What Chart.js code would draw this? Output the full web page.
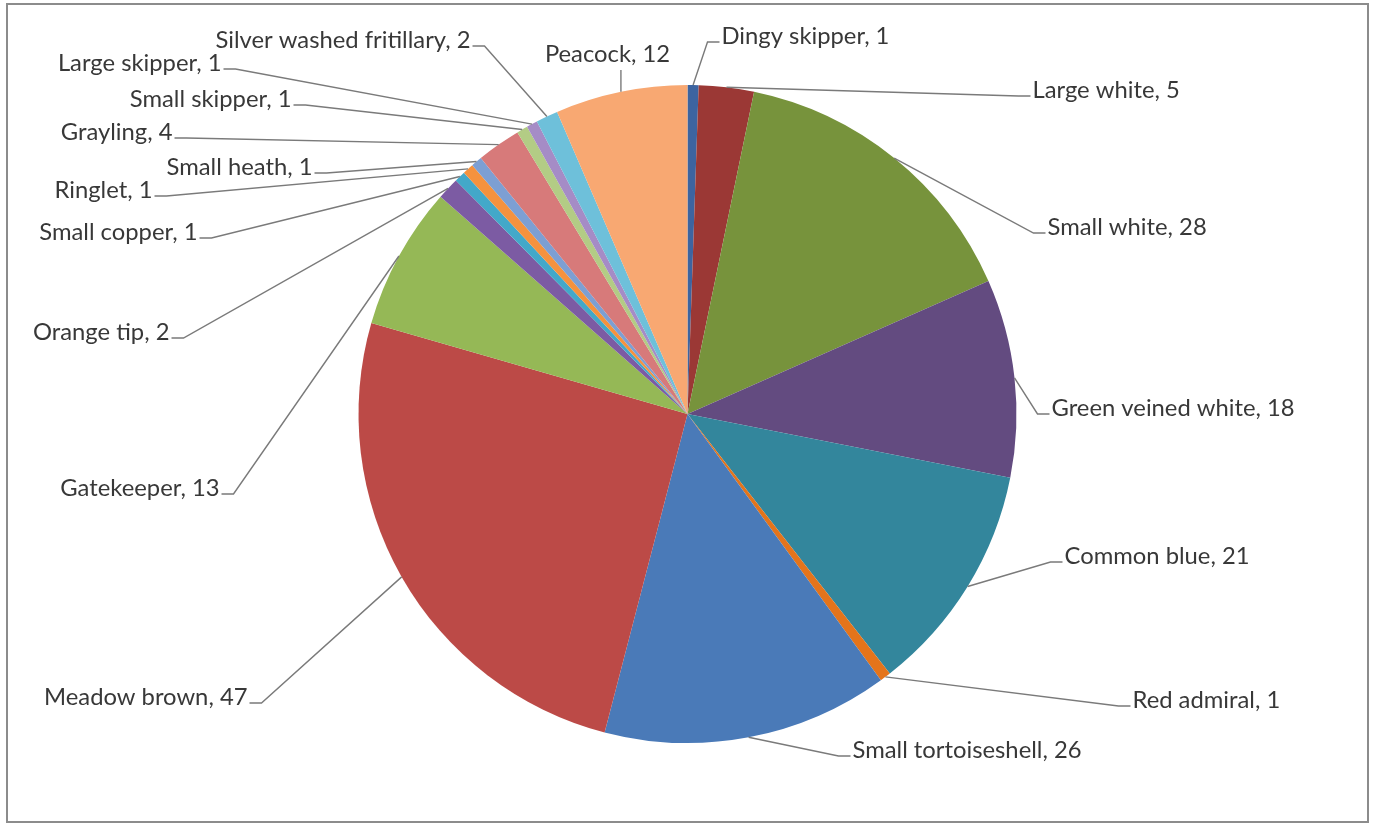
<!DOCTYPE html>
<html>
<head>
<meta charset="utf-8">
<title>Butterfly counts</title>
<script src="https://cdn.jsdelivr.net/npm/chart.js@4.4.1/dist/chart.umd.min.js"></script>
<style>
  html, body { margin: 0; padding: 0; background: #fff; }
  #wrap { position: relative; width: 1375px; height: 823px; }
</style>
</head>
<body>
<div id="wrap"><canvas id="pie"></canvas></div>
<script>
// species, clockwise from 12 o'clock
const species = [
  'Dingy skipper', 'Large white', 'Small white', 'Green veined white',
  'Common blue', 'Red admiral', 'Small tortoiseshell', 'Meadow brown',
  'Gatekeeper', 'Orange tip', 'Small copper', 'Ringlet', 'Small heath',
  'Grayling', 'Small skipper', 'Large skipper', 'Silver washed fritillary',
  'Peacock'
];
const counts = [1, 5, 28, 18, 21, 1, 26, 47, 13, 2, 1, 1, 1, 4, 1, 1, 2, 12];

const sliceColors = [
  '#3D64A0', '#9B3835', '#77933C', '#634B80', '#33869C', '#E4741B',
  '#4A7AB8', '#BC4A47', '#95B856', '#7C5BA3', '#43A8C9', '#F5923E',
  '#7D9FD3', '#D77A7A', '#B3CC85', '#A58CC6', '#6EC0DA', '#F8A872'
];

// where each label sits, offset from the pie centre, and which side the leader line joins
const labelSpots = [
  [34, -378, 'left'], [345, -324, 'left'], [360, -187, 'left'], [364, -6, 'left'],
  [377, 142, 'left'], [445, 286, 'left'], [165, 336, 'left'], [-440, 283, 'right'],
  [-468, 74, 'right'], [-518, -82, 'right'], [-490, -182, 'right'], [-535, -224, 'right'],
  [-375, -247, 'right'], [-515, -282, 'right'], [-396, -315, 'right'], [-466, -351, 'right'],
  [-217, -374, 'right'], [-80, -360, 'bottom']
];

const FONT_FAMILY = 'Lato, "Open Sans", sans-serif';
const TEXT_COLOR = '#383838';
const LINE_COLOR = '#7a7a7a';

// pick a font size so the text is about as wide as the original labels
function labelFontSize(ctx) {
  ctx.save();
  ctx.font = '100px ' + FONT_FAMILY;
  const w = ctx.measureText('Green veined white, 18').width;
  ctx.restore();
  return Math.round(100 * 243 / w * 10) / 10;
}

const frame = {
  id: 'frame',
  beforeDraw(chart) {
    const ctx = chart.ctx;
    ctx.save();
    ctx.fillStyle = '#fff';
    ctx.fillRect(0, 0, chart.width, chart.height);
    ctx.strokeStyle = '#8c8c8c';
    ctx.lineWidth = 2;
    ctx.strokeRect(7, 4, 1361, 818);
    ctx.restore();
  }
};

const leaderLabels = {
  id: 'leaderLabels',
  afterDatasetsDraw(chart) {
    const ctx = chart.ctx;
    const meta = chart.getDatasetMeta(0);
    const size = labelFontSize(ctx);

    ctx.save();
    ctx.font = size + 'px ' + FONT_FAMILY;
    ctx.textBaseline = 'middle';
    ctx.lineWidth = 1.4;
    ctx.strokeStyle = LINE_COLOR;
    ctx.fillStyle = TEXT_COLOR;

    meta.data.forEach((arc, i) => {
      const { x, y, startAngle, endAngle, outerRadius } = arc.getProps(
        ['x', 'y', 'startAngle', 'endAngle', 'outerRadius'], true);
      const mid = (startAngle + endAngle) / 2;
      const px = x + Math.cos(mid) * outerRadius;
      const py = y + Math.sin(mid) * outerRadius;

      const [dx, dy, side] = labelSpots[i];
      const lx = x + dx;
      const ly = y + dy;
      const text = species[i] + ', ' + counts[i];

      ctx.beginPath();
      ctx.moveTo(px, py);
      if (side === 'left') {
        ctx.lineTo(lx - 14, ly + 6);
        ctx.lineTo(lx - 2, ly + 6);
      } else if (side === 'right') {
        ctx.lineTo(lx + 14, ly + 6);
        ctx.lineTo(lx + 2, ly + 6);
      } else {
        ctx.lineTo(px, ly + 16);
      }
      ctx.stroke();

      if (side === 'left') {
        ctx.textAlign = 'left';
      } else if (side === 'right') {
        ctx.textAlign = 'right';
      } else {
        ctx.textAlign = 'center';
      }
      ctx.fillText(text, lx, ly);
    });
    ctx.restore();
  }
};

new Chart(document.getElementById('pie'), {
  type: 'pie',
  data: {
    labels: species,
    datasets: [{
      data: counts,
      backgroundColor: sliceColors,
      borderWidth: 0
    }]
  },
  options: {
    responsive: true,
    maintainAspectRatio: false,
    animation: false,
    layout: { padding: { top: 85, bottom: 80, left: 0, right: 0 } },
    plugins: {
      legend: { display: false },
      tooltip: { enabled: false }
    }
  },
  plugins: [frame, leaderLabels]
});
</script>
</body>
</html>
